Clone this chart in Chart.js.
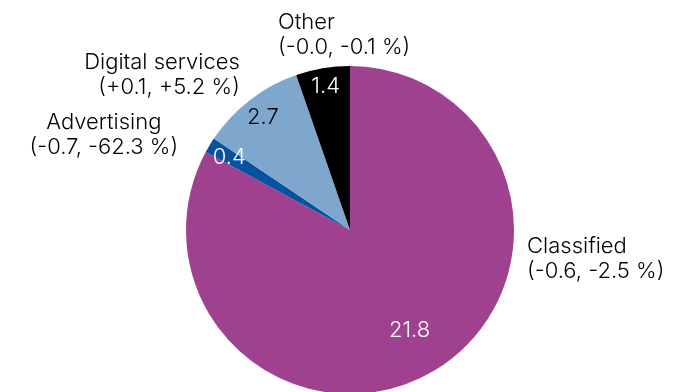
<!DOCTYPE html>
<html>
<head>
<meta charset="utf-8">
<script src="https://cdn.jsdelivr.net/npm/chart.js@4/dist/chart.umd.min.js"></script>
<style>
  html, body { margin: 0; padding: 0; background: #fff; }
  #frame { width: 674px; height: 392px; overflow: hidden; position: relative; }
  #wrap { width: 674px; height: 460px; position: absolute; left: 0; top: 0; }
</style>
</head>
<body>
<div id="frame"><div id="wrap"><canvas id="pie"></canvas></div></div>
<script>
// Revenue split by segment, clockwise from 12 o'clock
const segments = ['Classified', 'Advertising', 'Digital services', 'Other'];
const revenue = [21.8, 0.4, 2.7, 1.4];
const changes = ['(-0.6, -2.5 %)', '(-0.7, -62.3 %)', '(+0.1, +5.2 %)', '(-0.0, -0.1 %)'];
const sliceColors = ['#9f418f', '#0652a0', '#7fa7cd', '#000000'];
const valueColors = ['#ffffff', '#ffffff', '#000000', '#ffffff'];

const FONT = '300 22px Inter, "Noto Sans", sans-serif';

// placement of the text: value radius (fraction of r), outer label angle/dist/alignment
const valueRadius = [0.71, 0.86, 0.87, 0.89];
const outerLabels = [
    { angle: 9.3, dist: 1.094, align: 'left' },
    { angle: -158.8, dist: 1.61, align: 'center' },
    { angle: -125.4, dist: 1.16, align: 'right' },
    { angle: -110.2, dist: 1.27, align: 'left' }
];

const pieLabels = {
    id: 'pieLabels',
    afterDatasetsDraw(chart) {
        const ctx = chart.ctx;
        const arcs = chart.getDatasetMeta(0).data;
        ctx.save();
        ctx.font = FONT;
        ctx.textBaseline = 'middle';
        arcs.forEach((arc, i) => {
            const { x, y, startAngle, endAngle, outerRadius } = arc.getProps(['x', 'y', 'startAngle', 'endAngle', 'outerRadius']);
            const mid = (startAngle + endAngle) / 2;

            // value inside the slice
            const vr = outerRadius * valueRadius[i];
            ctx.fillStyle = valueColors[i];
            ctx.textAlign = 'center';
            ctx.fillText(revenue[i].toFixed(1), x + vr * Math.cos(mid), y + vr * Math.sin(mid));

            // name and change outside
            const o = outerLabels[i];
            const a = o.angle * Math.PI / 180;
            const lx = x + outerRadius * o.dist * Math.cos(a);
            const ly = y + outerRadius * o.dist * Math.sin(a);
            ctx.fillStyle = '#000000';
            ctx.textAlign = o.align;
            ctx.fillText(segments[i], lx, ly - 12.5);
            ctx.fillText(changes[i], lx, ly + 12.5);
        });
        ctx.restore();
    }
};

new Chart(document.getElementById('pie'), {
    type: 'pie',
    data: {
        labels: segments,
        datasets: [{
            data: revenue,
            backgroundColor: sliceColors,
            borderWidth: 0
        }]
    },
    options: {
        responsive: true,
        maintainAspectRatio: false,
        animation: false,
        layout: { padding: { top: 66, bottom: 66, left: 186, right: 160 } },
        plugins: {
            legend: { display: false },
            tooltip: { enabled: false }
        }
    },
    plugins: [pieLabels]
});
</script>
</body>
</html>
